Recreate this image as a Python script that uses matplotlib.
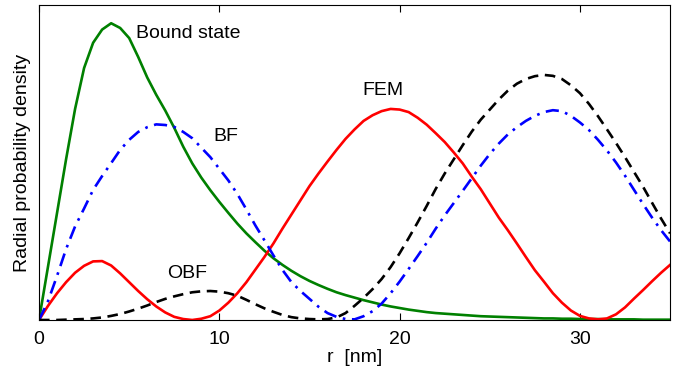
import matplotlib
matplotlib.use("Agg")
import matplotlib.pyplot as plt

plt.rcParams['font.family'] = ['Liberation Sans', 'DejaVu Sans']

# radius grid (nm), half-nm steps
r = [i * 0.5 for i in range(71)]

# values, arbitrary units
bound_state = [0, 0.17, 0.34, 0.51, 0.67, 0.80, 0.88, 0.922, 0.942, 0.927,
               0.895, 0.835, 0.77, 0.715, 0.665, 0.61, 0.55, 0.497, 0.452, 0.412,
               0.375, 0.34, 0.306, 0.275, 0.247, 0.22, 0.196, 0.175, 0.156, 0.139,
               0.124, 0.111, 0.099, 0.088, 0.079, 0.071, 0.063, 0.056, 0.049, 0.043,
               0.038, 0.033, 0.029, 0.025, 0.022, 0.02, 0.018, 0.016, 0.014, 0.012,
               0.011, 0.010, 0.009, 0.008, 0.007, 0.006, 0.005, 0.005, 0.004, 0.004,
               0.003, 0.003, 0.003, 0.002, 0.002, 0.002, 0.002, 0.001, 0.001, 0.001,
               0.001]
fem = [0, 0.045, 0.085, 0.12, 0.15, 0.172, 0.186, 0.187, 0.173, 0.148,
       0.12, 0.092, 0.066, 0.043, 0.024, 0.01, 0.003, 0.0, 0.004, 0.012,
       0.03, 0.055, 0.085, 0.12, 0.16, 0.2, 0.243, 0.29, 0.335, 0.38,
       0.425, 0.465, 0.503, 0.54, 0.575, 0.605, 0.632, 0.65, 0.663, 0.67,
       0.668, 0.66, 0.642, 0.62, 0.593, 0.565, 0.532, 0.497, 0.455, 0.415,
       0.37, 0.325, 0.285, 0.243, 0.2, 0.158, 0.122, 0.085, 0.055, 0.03,
       0.013, 0.005, 0.002, 0.005, 0.018, 0.04, 0.068, 0.095, 0.123, 0.15,
       0.175]
bf = [0, 0.06, 0.14, 0.225, 0.297, 0.354, 0.413, 0.457, 0.498, 0.54,
      0.572, 0.597, 0.612, 0.621, 0.619, 0.613, 0.597, 0.577, 0.547, 0.517,
      0.48, 0.443, 0.40, 0.351, 0.30, 0.253, 0.205, 0.159, 0.12, 0.092,
      0.067, 0.042, 0.022, 0.01, 0.003, 0.002, 0.012, 0.028, 0.052, 0.085,
      0.122, 0.162, 0.203, 0.245, 0.29, 0.332, 0.371, 0.41, 0.45, 0.49,
      0.527, 0.56, 0.589, 0.612, 0.632, 0.648, 0.66, 0.666, 0.663, 0.648,
      0.627, 0.603, 0.572, 0.538, 0.5, 0.458, 0.413, 0.368, 0.325, 0.285,
      0.249]
obf = [0, 0, 0, 0.001, 0.002, 0.003, 0.005, 0.008, 0.013, 0.019,
       0.027, 0.036, 0.046, 0.057, 0.067, 0.075, 0.082, 0.088, 0.091, 0.092,
       0.09, 0.085, 0.077, 0.064, 0.05, 0.037, 0.026, 0.016, 0.009, 0.005,
       0.003, 0.002, 0.003, 0.008, 0.022, 0.045, 0.07, 0.098, 0.13, 0.168,
       0.212, 0.26, 0.31, 0.362, 0.416, 0.465, 0.51, 0.555, 0.598, 0.636,
       0.668, 0.7, 0.728, 0.75, 0.765, 0.774, 0.778, 0.775, 0.765, 0.745,
       0.72, 0.686, 0.647, 0.605, 0.562, 0.517, 0.47, 0.423, 0.372, 0.322,
       0.275]

fig = plt.figure(figsize=(6.81, 3.72), dpi=100)
ax = fig.add_axes([0.0573, 0.1398, 0.9267, 0.8468])

lw = 1.9
ax.plot(r, bound_state, color='#008000', lw=lw)
ax.plot(r, fem, color='red', lw=lw)
ax.plot(r, bf, color='blue', lw=lw, dashes=[5, 2.5, 1, 2.5])
ax.plot(r, obf, color='black', lw=lw, dashes=[4, 2.5])

fs = 14
ax.text(5.4, 0.911, 'Bound state', fontsize=fs, va='center')
ax.text(9.65, 0.581, 'BF', fontsize=fs, va='center')
ax.text(17.96, 0.73, 'FEM', fontsize=fs, va='center')
ax.text(7.1, 0.149, 'OBF', fontsize=fs, va='center')

ax.set_xlim(0, 35)
ax.set_ylim(0, 1)
ax.set_xticks([0, 10, 20, 30])
ax.set_yticks([])
ax.tick_params(axis='x', direction='in', top=True, labelsize=fs, length=5, pad=8)
ax.set_xlabel('r  [nm]', fontsize=fs, labelpad=1)
ax.set_ylabel('Radial probability density', fontsize=fs, labelpad=6)

fig.savefig('out.png', dpi=100)
